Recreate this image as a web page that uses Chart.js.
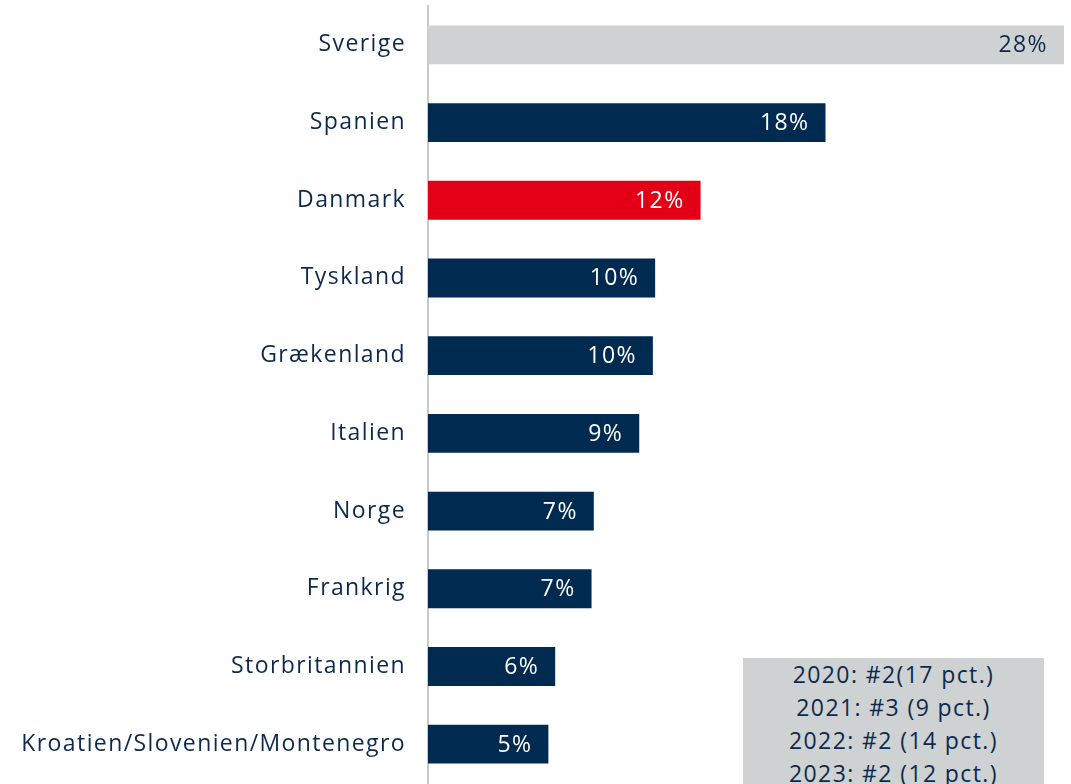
<!DOCTYPE html>
<html>
<head>
<meta charset="utf-8">
<script src="https://cdn.jsdelivr.net/npm/chart.js@4"></script>
<style>
  html, body { margin: 0; padding: 0; background: #fff; }
  #wrap { position: relative; width: 1071px; height: 784px; }
  canvas { display: block; }
  #note {
    position: absolute; left: 743px; top: 658px; width: 301px; height: 126px;
    background: #cfd2d3; color: #0d2a4d; font-family: "Open Sans", sans-serif;
    font-size: 23px; line-height: 33px; text-align: center; letter-spacing: 1.4px;
    box-sizing: border-box;
  }
</style>
</head>
<body>
<div id="wrap">
  <canvas id="c" width="1071" height="784"></canvas>
  <div id="note"></div>
</div>
<script>
// data
const countries = ['Sverige', 'Spanien', 'Danmark', 'Tyskland', 'Grækenland', 'Italien', 'Norge', 'Frankrig', 'Storbritannien', 'Kroatien/Slovenien/Montenegro'];
const shares = [28, 17.5, 12, 10, 9.9, 9.3, 7.3, 7.2, 5.6, 5.3];
const noteLines = ['2020: #2(17 pct.)', '2021: #3 (9 pct.)', '2022: #2 (14 pct.)', '2023: #2 (12 pct.)'];

const NAVY = '#002a50';
const RED = '#e30016';
const GREY = '#cfd2d3';
const TEXT = '#0d2a4d';

document.getElementById('note').innerHTML = noteLines.join('<br>');

const barColors = countries.map((c, i) => i === 0 ? GREY : (c === 'Danmark' ? RED : NAVY));

// wider text, closer to the original's font
const spacing = {
  id: 'spacing',
  beforeDraw(chart) { chart.ctx.letterSpacing = '1.4px'; }
};

// value labels inside bar ends
const valueLabels = {
  id: 'valueLabels',
  afterDatasetsDraw(chart) {
    const ctx = chart.ctx;
    const meta = chart.getDatasetMeta(0);
    ctx.save();
    ctx.letterSpacing = '1.4px';
    ctx.font = '23px "Open Sans", sans-serif';
    ctx.textAlign = 'right';
    ctx.textBaseline = 'middle';
    meta.data.forEach((bar, i) => {
      ctx.fillStyle = i === 0 ? TEXT : '#ffffff';
      ctx.fillText(Math.round(shares[i]) + '%', bar.x - 16, bar.y + 1);
    });
    ctx.restore();
  }
};

new Chart(document.getElementById('c'), {
  type: 'bar',
  data: {
    labels: countries,
    datasets: [{
      data: shares,
      backgroundColor: barColors,
      barPercentage: 0.5,
      categoryPercentage: 1
    }]
  },
  options: {
    indexAxis: 'y',
    responsive: false,
    animation: false,
    layout: { padding: { top: 6, right: 7, bottom: 1, left: 0 } },
    plugins: { legend: { display: false }, tooltip: { enabled: false } },
    scales: {
      x: { display: false, min: 0, max: 28 },
      y: {
        afterFit(scale) {
          scale.width = 428;
          scale.paddingTop = 0;
          scale.paddingBottom = 0;
        },
        grid: { display: false, drawTicks: false },
        border: { display: true, color: '#c9c9c9', width: 2 },
        ticks: {
          color: TEXT,
          padding: 22,
          font: { family: '"Open Sans", sans-serif', size: 23 }
        }
      }
    }
  },
  plugins: [spacing, valueLabels]
});
</script>
</body>
</html>
